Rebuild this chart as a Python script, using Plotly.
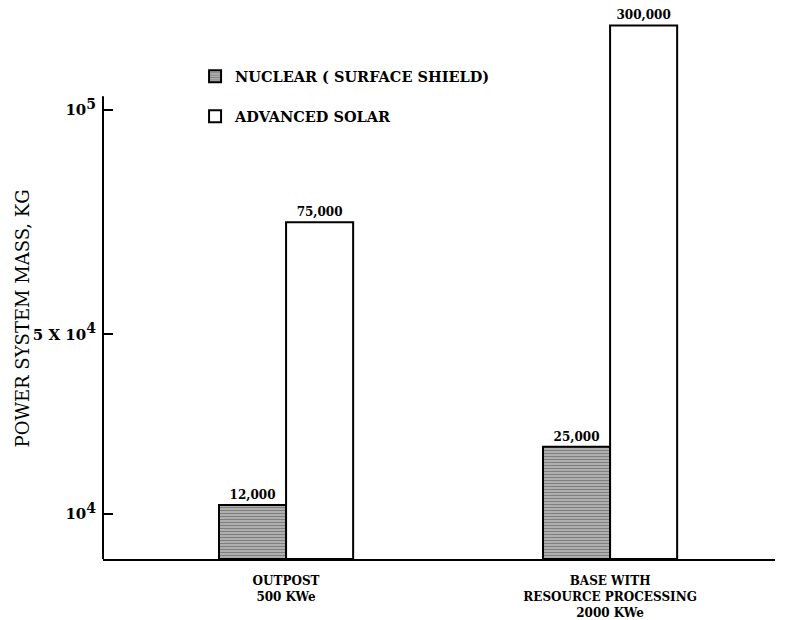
import plotly.graph_objects as go

# ---- data ----
categories = ["OUTPOST<br>500 KWe", "BASE WITH<br>RESOURCE PROCESSING<br>2000 KWe"]
series_names = ["NUCLEAR ( SURFACE SHIELD)", "ADVANCED SOLAR"]
nuclear_kg = [12000, 25000]
solar_kg = [75000, 300000]
tick_values = [10000, 50000, 100000]
tick_labels = ["10<sup><span style='font-size:14px'>4</span></sup>",
               "5 X 10<sup><span style='font-size:14px'>4</span></sup>",
               "10<sup><span style='font-size:14px'>5</span></sup>"]
y_title = "POWER SYSTEM MASS, KG"

# axis top; taller bars are drawn broken (cut) near the top of the frame
Y_MAX = 120000
BAR_CAP = 118800


def shown(vals):
    return [min(v, BAR_CAP) for v in vals]


def labels(vals):
    return [f"{v:,}" for v in vals]


SERIF = "DejaVu Serif"
num_font = dict(family=SERIF, size=12, color="black", weight="bold")

fig = go.Figure()
fig.add_trace(go.Bar(
    name=series_names[0], x=categories, y=shown(nuclear_kg),
    text=labels(nuclear_kg), textposition="outside", cliponaxis=False,
    textfont=num_font, legendgroup="a",
    marker=dict(color="white", line=dict(color="black", width=2),
                pattern=dict(shape="-", fgcolor="black", bgcolor="white",
                             size=3, solidity=0.75, fillmode="overlay")),
))
fig.add_trace(go.Bar(
    name=series_names[1], x=categories, y=shown(solar_kg),
    text=labels(solar_kg), textposition="outside", cliponaxis=False,
    textfont=num_font, legendgroup="b",
    marker=dict(color="white", line=dict(color="black", width=2)),
))

# the page body adds an 8px margin, so the figure is 8px smaller than the window
fig.update_layout(
    width=778, height=612,
    margin=dict(l=95, r=11, t=12, b=61, autoexpand=False),
    paper_bgcolor="white", plot_bgcolor="white",
    barmode="group", bargap=0.586, bargroupgap=0,
    font=dict(family=SERIF, color="black"),
    legend=dict(x=0.137, y=0.925, xanchor="left", yanchor="top",
                font=dict(family=SERIF, size=14.5, color="black", weight="bold"),
                traceorder="grouped", tracegroupgap=18, bgcolor="rgba(0,0,0,0)"),
    showlegend=True,
)
fig.update_xaxes(
    range=[-0.565, 1.509], showline=True, linecolor="black", linewidth=2,
    ticks="", showgrid=False, zeroline=False, automargin=False,
    tickfont=dict(family=SERIF, size=12, color="black", weight="bold"),
    ticklabelstandoff=10,
)
fig.update_yaxes(
    range=[0, Y_MAX], showline=False, showgrid=False, zeroline=False,
    automargin=False,
    tickvals=tick_values, ticktext=tick_labels,
    ticks="inside", ticklen=10, tickwidth=2, tickcolor="black",
    tickfont=dict(family=SERIF, size=15, color="black", weight="bold"),
    ticklabelstandoff=6,
)
# y axis title
fig.add_annotation(text=y_title, xref="paper", yref="paper", x=-0.12, y=0.447,
                   xanchor="center", yanchor="middle",
                   textangle=-90, showarrow=False,
                   font=dict(family=SERIF, size=18, color="black"))
# y axis spine (stops below the top of the frame, as in the original)
fig.add_shape(type="line", xref="paper", yref="y", x0=0, x1=0, y0=0, y1=103000,
              line=dict(color="black", width=2))

fig.write_html("out.html")
